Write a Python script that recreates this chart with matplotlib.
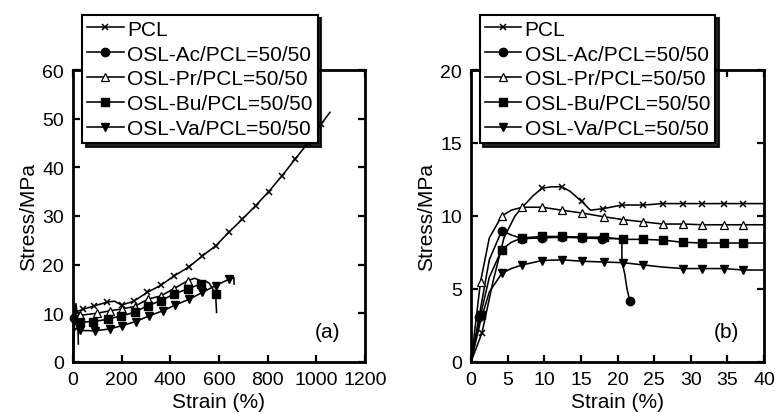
import matplotlib
matplotlib.use("Agg")
import matplotlib.pyplot as plt
from matplotlib.ticker import MultipleLocator

plt.rcParams['font.family'] = ['Liberation Sans', 'DejaVu Sans']

labels = ["PCL", "OSL-Ac/PCL=50/50", "OSL-Pr/PCL=50/50", "OSL-Bu/PCL=50/50", "OSL-Va/PCL=50/50"]

# ---------------- panel (a): full strain range ----------------
pcl_a_x = [0, 5, 12, 16, 40, 85, 140, 170, 200, 250, 305, 362, 416, 475, 532, 587, 641, 695, 750, 804, 858, 913, 967, 1020, 1056]
pcl_a_y = [0, 9.8, 12.0, 10.4, 10.8, 11.5, 12.3, 12.5, 11.7, 12.5, 14.3, 15.8, 17.7, 19.5, 21.8, 23.9, 26.7, 29.3, 32.1, 35.0, 38.2, 41.7, 45.1, 48.9, 51.3]
pcl_a_m = [4, 5, 6, 8, 9, 10, 11, 12, 13, 14, 15, 16, 17, 18, 19, 20, 21, 22, 23]

ac_a_x = [0, 4.2, 10, 20.5, 20.6, 22]
ac_a_y = [0, 9.0, 8.5, 8.5, 6.8, 3.7]
ac_a_m = [1, 3]

pr_a_x = [0, 4, 10, 30, 97, 150, 200, 253, 307, 362, 416, 471, 500, 520]
pr_a_y = [0, 10.0, 10.6, 9.6, 10.0, 10.5, 10.9, 11.4, 12.9, 13.6, 15.1, 16.7, 17.2, 16.8]
pr_a_m = [3, 4, 5, 6, 7, 8, 9, 10, 11]

bu_a_x = [0, 4, 10, 29, 83, 144, 199, 253, 307, 362, 416, 471, 528, 545, 560, 586, 590]
bu_a_y = [0, 7.7, 8.6, 8.2, 8.3, 8.8, 9.5, 10.2, 11.6, 12.6, 14.0, 15.0, 16.1, 16.6, 16.2, 14.0, 10.2]
bu_a_m = [3, 4, 5, 6, 7, 8, 9, 10, 11, 12, 15]

va_a_x = [0, 4, 10, 29, 90, 151, 203, 257, 314, 368, 420, 477, 532, 586, 641, 661, 662]
va_a_y = [0, 6.1, 6.9, 6.5, 6.4, 6.8, 7.5, 8.3, 9.5, 10.5, 11.7, 12.9, 14.3, 15.7, 17.0, 17.4, 16.0]
va_a_m = [3, 4, 5, 6, 7, 8, 9, 10, 11, 12, 13, 14]

# ---------------- panel (b): first 40 % strain ----------------
pcl_b_x = [0, 1.5, 3.0, 4.5, 6.0, 7.0, 8.5, 9.7, 11.0, 12.4, 13.5, 15.1, 16.3, 18.0, 20.6, 23.5, 26.2, 28.9, 31.6, 34.5, 37.2, 40]
pcl_b_y = [0, 2.0, 5.5, 8.5, 10.0, 10.6, 11.4, 11.9, 12.0, 12.0, 11.7, 11.0, 10.4, 10.5, 10.75, 10.75, 10.85, 10.85, 10.85, 10.85, 10.85, 10.85]
pcl_b_m = [1, 7, 9, 11, 13, 14, 15, 16, 17, 18, 19, 20]

ac_b_x = [0, 1.1, 2.5, 4.2, 5.5, 7.0, 9.7, 12.4, 15.1, 17.9, 20.6, 20.6, 21.0, 21.3, 21.7]
ac_b_y = [0, 3.1, 7.0, 9.0, 8.7, 8.45, 8.5, 8.55, 8.5, 8.45, 8.45, 6.9, 6.0, 5.0, 4.15]
ac_b_m = [1, 3, 5, 6, 7, 8, 9, 14]

pr_b_x = [0, 1.3, 2.5, 4.2, 5.5, 7.0, 9.7, 12.4, 15.2, 18.1, 20.8, 23.5, 26.2, 28.9, 31.6, 34.5, 37.2, 40]
pr_b_y = [0, 5.5, 8.5, 10.0, 10.4, 10.6, 10.6, 10.4, 10.2, 9.95, 9.75, 9.6, 9.45, 9.45, 9.4, 9.4, 9.4, 9.4]
pr_b_m = [1, 3, 5, 6, 7, 8, 9, 10, 11, 12, 13, 14, 15, 16]

bu_b_x = [0, 1.3, 2.5, 4.2, 5.5, 7.0, 9.7, 12.4, 15.2, 18.1, 20.8, 23.5, 26.2, 28.9, 31.6, 34.5, 37.2, 40]
bu_b_y = [0, 3.2, 5.8, 7.7, 8.2, 8.5, 8.6, 8.6, 8.55, 8.55, 8.4, 8.4, 8.35, 8.2, 8.15, 8.15, 8.15, 8.15]
bu_b_m = [1, 3, 5, 6, 7, 8, 9, 10, 11, 12, 13, 14, 15, 16]

va_b_x = [0, 1.3, 2.5, 4.2, 5.5, 7.0, 9.7, 12.4, 15.2, 18.1, 20.8, 23.5, 26.2, 28.9, 31.6, 34.5, 37.2, 40]
va_b_y = [0, 2.8, 4.8, 6.07, 6.4, 6.65, 6.95, 7.0, 6.9, 6.85, 6.8, 6.65, 6.5, 6.4, 6.4, 6.4, 6.3, 6.3]
va_b_m = [3, 5, 6, 7, 8, 9, 10, 11, 13, 14, 15, 16]

styles = [
    dict(marker='x', ms=5.0, mew=1.1, mfc='black'),
    dict(marker='o', ms=6.0, mew=1.0, mfc='black'),
    dict(marker='^', ms=6.0, mew=0.9, mfc='white'),
    dict(marker='s', ms=6.0, mew=1.0, mfc='black'),
    dict(marker='v', ms=6.0, mew=1.0, mfc='black'),
]

panel_a = [(pcl_a_x, pcl_a_y, pcl_a_m), (ac_a_x, ac_a_y, ac_a_m), (pr_a_x, pr_a_y, pr_a_m),
           (bu_a_x, bu_a_y, bu_a_m), (va_a_x, va_a_y, va_a_m)]
panel_b = [(pcl_b_x, pcl_b_y, pcl_b_m), (ac_b_x, ac_b_y, ac_b_m), (pr_b_x, pr_b_y, pr_b_m),
           (bu_b_x, bu_b_y, bu_b_m), (va_b_x, va_b_y, va_b_m)]

W, H = 775, 414
fig = plt.figure(figsize=(W / 100, H / 100), dpi=100)
ax_a = fig.add_axes([73 / W, (H - 363) / H, 292 / W, 292 / H])
ax_b = fig.add_axes([471 / W, (H - 363) / H, 293 / W, 292 / H])


def draw(ax, data, xlim, xstep, ylim, ystep, tag, legx):
    handles = []
    for (x, y, m), st, lab in zip(data, styles, labels):
        h, = ax.plot(x, y, color='black', lw=1.15, mec='black', markevery=m,
                     label=lab, clip_on=False, zorder=3, **st)
        handles.append(h)
    ax.set_xlim(*xlim)
    ax.set_ylim(*ylim)
    ax.xaxis.set_major_locator(MultipleLocator(xstep))
    ax.yaxis.set_major_locator(MultipleLocator(ystep))
    ax.tick_params(direction='in', top=True, right=True, length=5, width=1.6,
                   labelsize=14, colors='black')
    ax.tick_params(axis='y', pad=6.5)
    ax.tick_params(axis='x', pad=6.5)
    for s in ax.spines.values():
        s.set_linewidth(2.0)
    ax.set_xlabel("Strain (%)", fontsize=15, labelpad=3)
    ax.set_ylabel("Stress/MPa", fontsize=15, labelpad=3)
    ax.text(0.873, 0.104, tag, transform=ax.transAxes, fontsize=15,
            ha='center', va='center')
    leg = ax.legend(handles=handles, loc='upper left', bbox_to_anchor=(legx, 1.19),
                    borderaxespad=0, fontsize=15, frameon=True, fancybox=False,
                    shadow={'color': 'black', 'alpha': 0.85, 'ox': 2.5, 'oy': -2.5},
                    handlelength=1.75, handletextpad=0.15, labelspacing=0.28,
                    borderpad=0.25, framealpha=1, edgecolor='black')
    leg.get_frame().set_linewidth(1.5)
    leg.set_zorder(10)


draw(ax_a, panel_a, (0, 1200), 200, (0, 60), 10, "(a)", 0.031)
draw(ax_b, panel_b, (0, 40), 5, (0, 20), 5, "(b)", 0.03)

fig.savefig("out.png", dpi=100)
